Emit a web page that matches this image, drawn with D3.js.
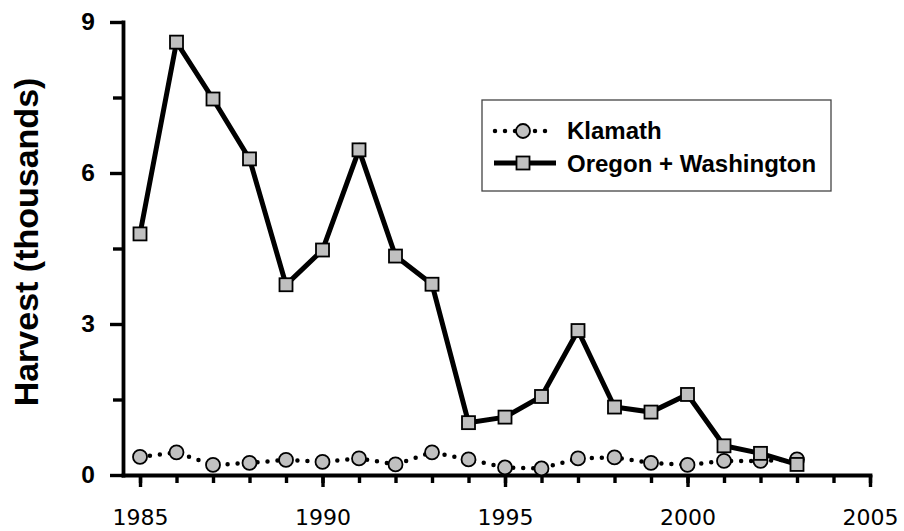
<!DOCTYPE html>
<html><head><meta charset="utf-8">
<script src="https://cdn.jsdelivr.net/npm/d3@7"></script>
<style>
html,body{margin:0;padding:0;background:#fff;}
svg{display:block;}
</style></head>
<body>
<svg id="chart" width="904" height="531"></svg>
<script>
const years = [1985,1986,1987,1988,1989,1990,1991,1992,1993,1994,1995,1996,1997,1998,1999,2000,2001,2002,2003];
const klamath = [0.36,0.45,0.20,0.24,0.30,0.26,0.33,0.21,0.45,0.31,0.15,0.13,0.33,0.35,0.24,0.20,0.28,0.28,0.31];
const oregonWashington = [4.79,8.60,7.47,6.28,3.78,4.47,6.46,4.35,3.79,1.04,1.15,1.56,2.87,1.35,1.25,1.60,0.58,0.43,0.21];
const xMajorTicks = [1985,1990,1995,2000,2005];
const xMinorTicks = d3.range(1985,2006);
const yMajorTicks = [0,3,6,9];
const yMinorTicks = [1.5,4.5,7.5];
const seriesNames = ["Klamath","Oregon + Washington"];
const yTitle = "Harvest (thousands)";

const svg = d3.select("#chart");
const x = d3.scaleLinear().domain([1984.534, 2005]).range([123, 870]);
const y = d3.scaleLinear().domain([0, 9]).range([475, 22]);

const axisStroke = 3.8;
function styleAxis(g){
  g.selectAll("path").attr("stroke","#000").attr("stroke-width",axisStroke).attr("stroke-linecap","square");
  g.selectAll("line").attr("stroke","#000").attr("stroke-width",3.4);
}

// x axis
const gxMinor = svg.append("g").attr("transform",`translate(0,${y(0)})`)
  .call(d3.axisBottom(x).tickValues(xMinorTicks).tickSize(8).tickSizeOuter(0).tickFormat(""));
styleAxis(gxMinor);
const gxMajor = svg.append("g").attr("transform",`translate(0,${y(0)})`)
  .call(d3.axisBottom(x).tickValues(xMajorTicks).tickSize(12).tickSizeOuter(0).tickPadding(22).tickFormat(d3.format("d")));
styleAxis(gxMajor);
gxMajor.select("path").remove();
gxMajor.selectAll("text").attr("font-family","'DejaVu Sans', Verdana, sans-serif").attr("font-size",22).attr("fill","#000");

// y axis
const gyMinor = svg.append("g").attr("transform",`translate(${x.range()[0]},0)`)
  .call(d3.axisLeft(y).tickValues(yMinorTicks).tickSize(10).tickSizeOuter(0).tickFormat(""));
styleAxis(gyMinor);
const gyMajor = svg.append("g").attr("transform",`translate(${x.range()[0]},0)`)
  .call(d3.axisLeft(y).tickValues(yMajorTicks).tickSize(13).tickSizeOuter(0).tickPadding(15).tickFormat(d3.format("d")));
styleAxis(gyMajor);
gyMajor.select("path").remove();
gyMajor.selectAll("text").attr("font-family","'Liberation Sans', Arial, sans-serif").attr("font-weight","bold").attr("font-size",24.5).attr("fill","#000");

// y title
svg.append("text")
  .attr("transform",`translate(38,242) rotate(-90)`)
  .attr("text-anchor","middle")
  .attr("font-family","'Liberation Sans', Arial, sans-serif")
  .attr("font-weight","bold").attr("font-size",34)
  .text(yTitle);

const line = d3.line().x((d,i)=>x(years[i])).y(d=>y(d));
const fillGray = "#c0c0c0";

// Klamath
svg.append("path").datum(klamath).attr("d",line)
  .attr("fill","none").attr("stroke","#000").attr("stroke-width",4.5)
  .attr("stroke-linecap","round").attr("stroke-dasharray","0 10");
svg.append("g").selectAll("circle").data(klamath).join("circle")
  .attr("cx",(d,i)=>x(years[i])).attr("cy",d=>y(d)).attr("r",7)
  .attr("fill",fillGray).attr("stroke","#000").attr("stroke-width",1.8);

// Oregon + Washington
svg.append("path").datum(oregonWashington).attr("d",line)
  .attr("fill","none").attr("stroke","#000").attr("stroke-width",5).attr("stroke-linejoin","miter");
const sq = 13;
svg.append("g").selectAll("rect").data(oregonWashington).join("rect")
  .attr("x",(d,i)=>x(years[i])-sq/2).attr("y",d=>y(d)-sq/2).attr("width",sq).attr("height",sq)
  .attr("fill",fillGray).attr("stroke","#000").attr("stroke-width",1.8);

// legend
const lg = svg.append("g");
lg.append("rect").attr("x",482).attr("y",100).attr("width",349).attr("height",91)
  .attr("fill","#fff").attr("stroke","#444").attr("stroke-width",1.3);
lg.append("line").attr("x1",495).attr("x2",555).attr("y1",131).attr("y2",131)
  .attr("stroke","#000").attr("stroke-width",4.5).attr("stroke-linecap","round").attr("stroke-dasharray","0 10");
lg.append("circle").attr("cx",523).attr("cy",131).attr("r",7)
  .attr("fill",fillGray).attr("stroke","#000").attr("stroke-width",1.8);
lg.append("line").attr("x1",494).attr("x2",556).attr("y1",163).attr("y2",163)
  .attr("stroke","#000").attr("stroke-width",5);
lg.append("rect").attr("x",523-sq/2).attr("y",163-sq/2).attr("width",sq).attr("height",sq)
  .attr("fill",fillGray).attr("stroke","#000").attr("stroke-width",1.8);
lg.selectAll("text.lbl").data(seriesNames).join("text").attr("class","lbl")
  .attr("x",567).attr("y",(d,i)=>139+i*33)
  .attr("font-family","'Liberation Sans', Arial, sans-serif").attr("font-weight","bold").attr("font-size",24)
  .text(d=>d);
</script>
</body></html>
